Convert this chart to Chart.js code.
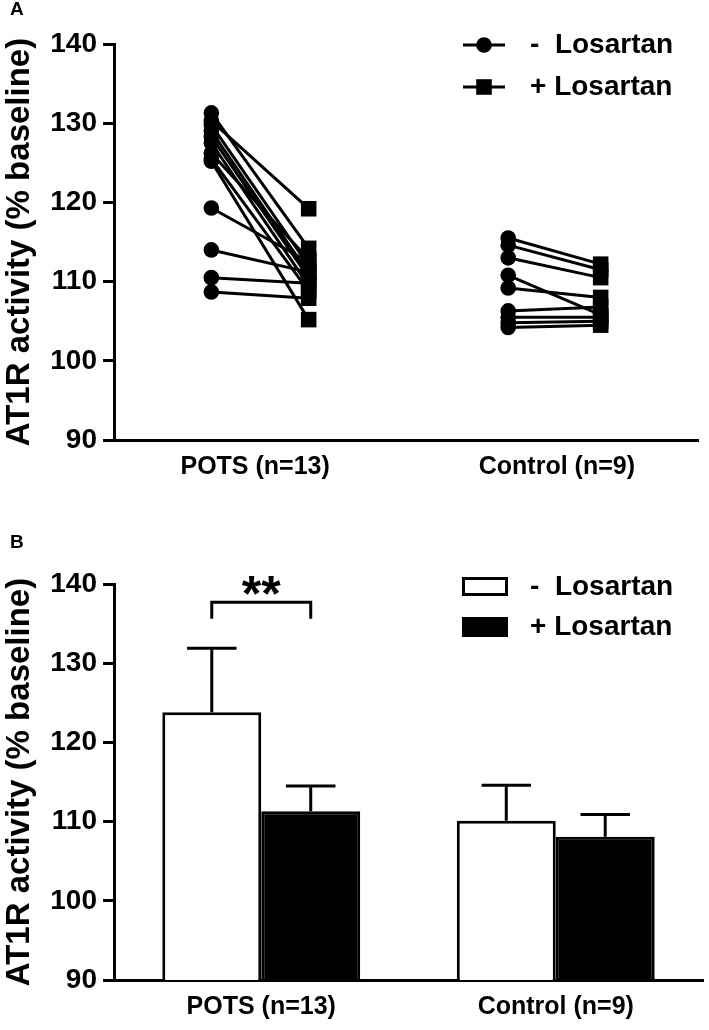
<!DOCTYPE html>
<html><head><meta charset="utf-8">
<script src="https://cdn.jsdelivr.net/npm/chart.js@4.4.0/dist/chart.umd.min.js"></script>
<style>
html,body{margin:0;padding:0;background:#fff;}
#wrap{position:relative;width:709px;height:1030px;background:#fff;}
#a{position:absolute;left:0;top:0;}
#b{position:absolute;left:0;top:520px;}
</style></head><body>
<div id="wrap">
<canvas id="a" width="709" height="520"></canvas>
<canvas id="b" width="709" height="510"></canvas>
</div>
<script>
// ---------- text ----------
const groups = ['POTS (n=13)', 'Control (n=9)'];
const legendLabels = ['-  Losartan', '+ Losartan'];
const yTickValues = [90, 100, 110, 120, 130, 140];
const axisTitle = 'AT1R activity (% baseline)';
const panelLabels = ['A', 'B'];
const sigText = '**';

// ---------- panel A: paired values ----------
const potsMinus = [131.3, 130.3, 129.8, 129.0, 128.3, 127.5, 126.2, 125.5, 125.2, 119.3, 114.0, 110.5, 108.7];
const potsPlus  = [114.2, 119.2, 112.0, 111.0, 110.5, 109.5, 112.8, 108.8, 105.2, 112.5, 111.2, 109.8, 107.9];
const controlMinus = [115.5, 114.6, 113.0, 110.8, 109.2, 106.3, 105.5, 104.8, 104.2];
const controlPlus  = [112.2, 111.5, 110.5, 105.8, 108.0, 106.8, 105.5, 105.0, 104.5];

// ---------- panel B: means and errors ----------
const meanMinus = [123.8, 110.1];
const meanPlus  = [111.3, 108.1];
const errMinus  = [8.1, 4.5];
const errPlus   = [3.2, 2.8];
const sigBracketTop = 137.7;
const sigBracketLeg = 135.6;

// ---------- layout (not data) ----------
const FONT = "'Liberation Sans', Arial, Helvetica, sans-serif";
const groupSlots = [[1, 2], [4.05, 5.0]];
const groupLabelSlots = [1.45, 4.55];

Chart.defaults.font.family = FONT;
Chart.defaults.color = '#000';

function yScale() {
  return {
    min: 90, max: 140,
    afterBuildTicks: s => { s.ticks = yTickValues.map(v => ({ value: v })); },
    ticks: { color: '#000', font: { family: FONT, size: 28, weight: 'bold' }, padding: 6 },
    grid: { display: true, drawOnChartArea: false, drawTicks: true, tickLength: 11, color: '#000', lineWidth: 3 },
    border: { display: true, color: '#000', width: 3 },
    title: { display: true, text: axisTitle, color: '#000',
      font: { family: FONT, size: 33, weight: 'bold', lineHeight: 1 }, padding: { top: 3, bottom: 0 } },
    afterFit: s => { s.width = 114; }
  };
}
function xTickFont() { return { family: FONT, size: 25, weight: 'bold' }; }

function panelLabel(txt, y) {
  return { id: 'panel' + txt, afterDraw(chart) {
    const c = chart.ctx; c.save();
    c.font = 'bold 19px ' + FONT; c.fillStyle = '#000';
    c.textBaseline = 'middle'; c.textAlign = 'left';
    c.fillText(txt, 10, y); c.restore();
  }};
}

function drawLegendText(c, label, y) {
  c.font = 'bold 28px ' + FONT; c.fillStyle = '#000';
  c.textBaseline = 'middle'; c.textAlign = 'left';
  c.fillText(label, 530, y);
}

const legendA = { id: 'legendA', afterDraw(chart) {
  const c = chart.ctx; c.save();
  const rows = [45, 87];
  rows.forEach((y, i) => {
    c.strokeStyle = '#000'; c.lineWidth = 3;
    c.beginPath(); c.moveTo(463, y); c.lineTo(505, y); c.stroke();
    c.fillStyle = '#000'; c.beginPath();
    if (i === 0) { c.arc(484, y, 7.8, 0, Math.PI * 2); }
    else { c.rect(484 - 7.8, y - 7.8, 15.6, 15.6); }
    c.fill();
    drawLegendText(c, legendLabels[i], y);
  });
  c.restore();
}};

const legendB = { id: 'legendB', afterDraw(chart) {
  const c = chart.ctx; c.save();
  // row 1: white box
  c.fillStyle = '#fff'; c.strokeStyle = '#000'; c.lineWidth = 3;
  c.beginPath(); c.rect(463.5, 578.5 - 520, 43, 16); c.fill(); c.stroke();
  drawLegendText(c, legendLabels[0], 587 - 520);
  // row 2: black box
  c.fillStyle = '#000'; c.fillRect(462, 617 - 520, 46, 20);
  drawLegendText(c, legendLabels[1], 627 - 520);
  c.restore();
}};

const errorBars = { id: 'errorBars', afterDatasetsDraw(chart) {
  const c = chart.ctx, y = chart.scales.y;
  chart.data.datasets.forEach((ds, di) => {
    const meta = chart.getDatasetMeta(di);
    meta.data.forEach((bar, i) => {
      const top = y.getPixelForValue(ds.data[i] + ds.errors[i]);
      const half = bar.width / 4;
      c.save(); c.strokeStyle = '#000'; c.lineWidth = 3; c.beginPath();
      c.moveTo(bar.x, bar.y); c.lineTo(bar.x, top);
      c.moveTo(bar.x - half, top); c.lineTo(bar.x + half, top);
      c.stroke(); c.restore();
    });
  });
}};

const bracket = { id: 'bracket', afterDatasetsDraw(chart) {
  const c = chart.ctx, y = chart.scales.y;
  const x1 = chart.getDatasetMeta(0).data[0].x;
  const x2 = chart.getDatasetMeta(1).data[0].x;
  const yt = y.getPixelForValue(sigBracketTop), yl = y.getPixelForValue(sigBracketLeg);
  c.save(); c.strokeStyle = '#000'; c.lineWidth = 3; c.lineJoin = 'miter';
  c.beginPath(); c.moveTo(x1, yl); c.lineTo(x1, yt); c.lineTo(x2, yt); c.lineTo(x2, yl); c.stroke();
  c.font = 'bold 50px ' + FONT; c.fillStyle = '#000'; c.textAlign = 'center'; c.textBaseline = 'alphabetic';
  c.fillText(sigText, (x1 + x2) / 2, yt + 9);
  c.restore();
}};

// ---------- Chart A ----------
const pairSets = [[potsMinus, potsPlus], [controlMinus, controlPlus]];
const datasetsA = [];
pairSets.forEach(([pre, post], g) => {
  pre.forEach((v, i) => {
    datasetsA.push({
      data: [{ x: groupSlots[g][0], y: v }, { x: groupSlots[g][1], y: post[i] }],
      showLine: true, borderColor: '#000', borderWidth: 3,
      pointStyle: ['circle', 'rect'], pointRadius: [7.8, 11],
      pointBackgroundColor: '#000', pointBorderColor: '#000', pointBorderWidth: 0
    });
  });
});

new Chart(document.getElementById('a'), {
  type: 'scatter',
  data: { datasets: datasetsA },
  options: {
    responsive: false, animation: false, events: [],
    layout: { padding: { top: 44, left: 0, right: 6, bottom: 0 } },
    plugins: { legend: { display: false }, tooltip: { enabled: false } },
    scales: {
      x: {
        type: 'linear', min: 0, max: 6,
        afterBuildTicks: s => { s.ticks = groupLabelSlots.map(v => ({ value: v })); },
        ticks: { callback: (v, i) => groups[i], autoSkip: false, maxRotation: 0, font: xTickFont(), color: '#000', padding: 12 },
        grid: { display: false, drawTicks: false },
        border: { display: true, color: '#000', width: 3 },
        afterFit: s => { s.height = 80; }
      },
      y: yScale()
    }
  },
  plugins: [legendA, panelLabel(panelLabels[0], 10)]
});

// ---------- Chart B ----------
new Chart(document.getElementById('b'), {
  type: 'bar',
  data: {
    labels: groups,
    datasets: [
      { label: legendLabels[0], data: meanMinus, errors: errMinus, backgroundColor: '#fff', borderColor: '#000', borderWidth: 3 },
      { label: legendLabels[1], data: meanPlus, errors: errPlus, backgroundColor: '#000', borderColor: '#000', borderWidth: 3 }
    ]
  },
  options: {
    responsive: false, animation: false, events: [],
    layout: { padding: { top: 64, left: 0, right: 6, bottom: 0 } },
    datasets: { bar: { categoryPercentage: 0.672, barPercentage: 1 } },
    plugins: { legend: { display: false }, tooltip: { enabled: false } },
    scales: {
      x: {
        ticks: { font: xTickFont(), color: '#000', padding: 12, maxRotation: 0, autoSkip: false },
        grid: { display: false, drawTicks: false },
        border: { display: true, color: '#000', width: 3 },
        afterFit: s => { s.height = 50; }
      },
      y: yScale()
    }
  },
  plugins: [errorBars, bracket, legendB, panelLabel(panelLabels[1], 23)]
});
</script>
</body></html>
